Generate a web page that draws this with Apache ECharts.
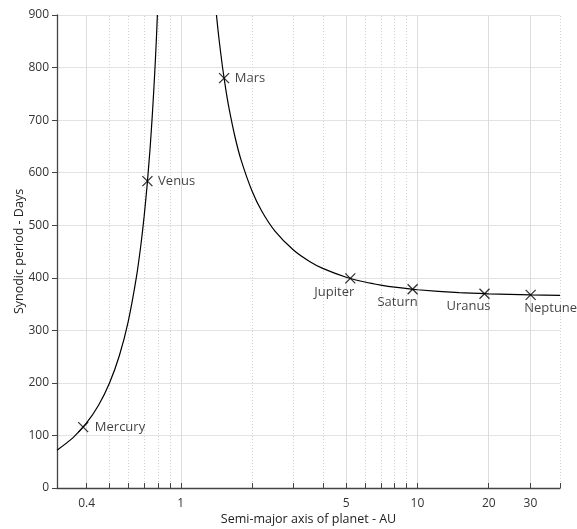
<!DOCTYPE html>
<html><head><meta charset="utf-8">
<script src="https://cdn.jsdelivr.net/npm/echarts@6/dist/echarts.min.js"></script>
<style>html,body{margin:0;padding:0;background:#fff}#c{width:577px;height:529px}</style>
</head><body><div id="c"></div>
<script>
// Curve: inner branch (a < 1 AU) and outer branch (a > 1 AU)
const innerA = [0.3, 0.35, 0.4, 0.45, 0.5, 0.55, 0.6, 0.65, 0.68, 0.7, 0.72, 0.74, 0.75, 0.76, 0.77, 0.78, 0.785, 0.79, 0.7965];
const innerDays = [71.8, 95.4, 123.7, 157.9, 199.8, 251.6, 317.2, 402.1, 466.2, 516.3, 573.5, 639.8, 676.8, 717.3, 761.0, 808.8, 834.3, 861.3, 900];
const outerA = [1.415, 1.43, 1.45, 1.5, 1.55, 1.6, 1.7, 1.8, 2, 2.2, 2.5, 3, 3.5, 4, 5, 6, 7, 8, 10, 15, 20, 30, 40];
const outerDays = [900, 879.7, 854.9, 801.6, 758.1, 722.0, 665.5, 623.4, 565.0, 526.6, 488.9, 452.3, 431.1, 417.4, 401.1, 391.9, 386.1, 382.1, 377.2, 371.6, 369.4, 367.5, 366.7];
// Planets
const planetNames = ['Mercury', 'Venus', 'Mars', 'Jupiter', 'Saturn', 'Uranus', 'Neptune'];
const planetA = [0.387, 0.723, 1.524, 5.203, 9.537, 19.19, 30.07];
const planetDays = [115.9, 583.9, 779.9, 398.9, 378.1, 369.7, 367.5];
// Axis ticks
const xTickValues = [0.4, 0.5, 0.6, 0.7, 0.8, 0.9, 1, 2, 3, 4, 5, 6, 7, 8, 9, 10, 20, 30, 40];
const xLabelValues = [0.4, 1, 5, 10, 20, 30];
const xLabelTexts = ['0.4', '1', '5', '10', '20', '30'];

const FONT = 'Open Sans';
const labelStyle = {
  Mercury: {position: 'right', distance: 6},
  Venus: {position: 'right', distance: 5},
  Mars: {position: 'right', distance: 5},
  Jupiter: {position: 'inside', offset: [-16, 14]},
  Saturn: {position: 'inside', offset: [-15, 13]},
  Uranus: {position: 'inside', offset: [-16, 13]},
  Neptune: {position: 'inside', offset: [20, 13]}
};

const gridLines = xTickValues.map(v => {
  const idx = xLabelValues.indexOf(v);
  const major = idx >= 0;
  return {
    xAxis: v,
    lineStyle: major ? {color: '#dcdcdc', type: 'solid', width: 1} : {color: '#d2d2d2', type: [1, 2], width: 1},
    label: major ? {show: true, formatter: xLabelTexts[idx], position: 'start', distance: 10, color: '#333', fontFamily: FONT, fontSize: 12} : {show: false}
  };
});
const tickLines = xTickValues.map(v => [{coord: [v, 0]}, {coord: [v, 9.5]}]);

const option = {
  animation: false,
  grid: {left: 57, right: 17, top: 15, bottom: 41, outerBoundsMode: 'none', containLabel: false},
  xAxis: {
    type: 'log', logBase: 10, min: 0.3, max: 40,
    name: 'Semi-major axis of planet - AU', nameLocation: 'middle', nameGap: 25, nameMoveOverlap: false,
    nameTextStyle: {fontFamily: FONT, fontSize: 12.5, color: '#222'},
    axisLine: {show: true, onZero: false, lineStyle: {color: '#444', width: 1.3}},
    axisTick: {show: false}, axisLabel: {show: false}, splitLine: {show: false}, minorSplitLine: {show: false}
  },
  yAxis: {
    type: 'value', min: 0, max: 900, interval: 100,
    name: 'Synodic period - Days', nameLocation: 'middle', nameGap: 31, nameMoveOverlap: false,
    nameTextStyle: {fontFamily: FONT, fontSize: 12.5, color: '#222'},
    axisLine: {show: true, lineStyle: {color: '#444', width: 1.3}},
    axisTick: {show: true, inside: false, length: 5, lineStyle: {color: '#444'}},
    axisLabel: {margin: 8, color: '#333', fontFamily: FONT, fontSize: 12},
    splitLine: {show: true, lineStyle: {color: '#e3e3e3', width: 1}}
  },
  series: [
    {
      type: 'line', data: [], z: 1, silent: true, symbol: 'none',
      markLine: {z: 1, silent: true, symbol: 'none', animation: false, data: gridLines}
    },
    {
      type: 'line', data: [], z: 3, silent: true, symbol: 'none',
      markLine: {z: 3, silent: true, symbol: 'none', animation: false, label: {show: false}, lineStyle: {color: '#444', type: 'solid', width: 1}, data: tickLines}
    },
    {
      type: 'line', z: 6, symbol: 'none', showSymbol: false, smooth: 0.2, silent: true,
      lineStyle: {color: '#000', width: 1.2},
      data: innerA.map((a, i) => [a, innerDays[i]])
    },
    {
      type: 'line', z: 6, symbol: 'none', showSymbol: false, smooth: 0.2, silent: true,
      lineStyle: {color: '#000', width: 1.2},
      data: outerA.map((a, i) => [a, outerDays[i]])
    },
    {
      type: 'scatter', z: 7, silent: true,
      symbol: 'path://M0,0L10,10M10,0L0,10', symbolSize: 10,
      itemStyle: {color: 'rgba(0,0,0,0)', borderColor: '#000', borderWidth: 1.3},
      data: planetNames.map((n, i) => ({
        value: [planetA[i], planetDays[i]],
        label: Object.assign({show: true, formatter: n, color: '#111', fontFamily: FONT, fontSize: 13}, labelStyle[n])
      }))
    }
  ]
};
echarts.init(document.getElementById('c'), null, {renderer: 'canvas'}).setOption(option);
</script></body></html>
